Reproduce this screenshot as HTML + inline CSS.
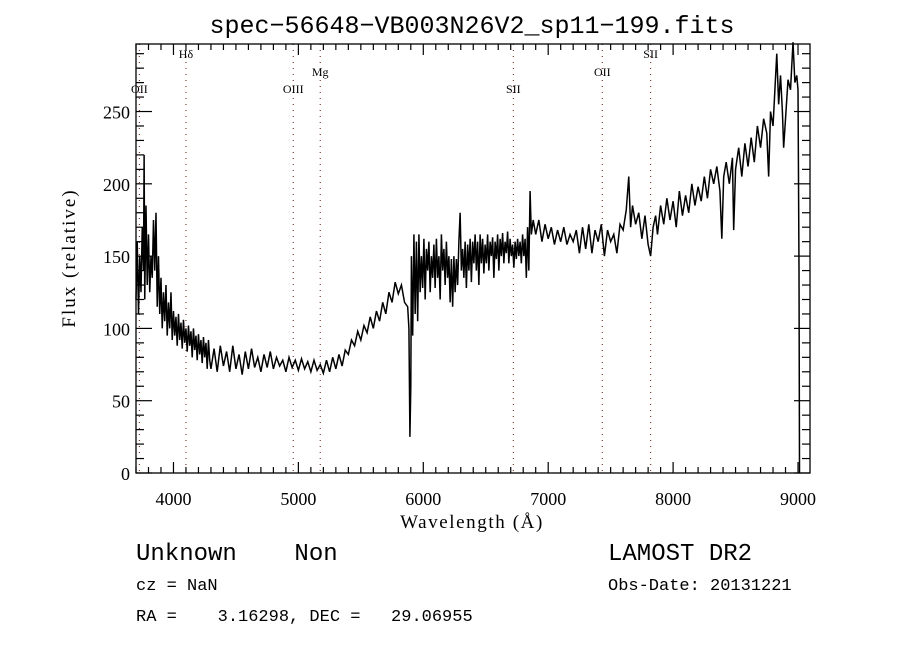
<!DOCTYPE html>
<html><head><meta charset="utf-8"><style>
html,body{margin:0;padding:0;background:#fff;}
svg{display:block;}
text{font-family:"Liberation Serif",serif;fill:#000;white-space:pre;}
</style></head><body>
<svg id="chart" width="900" height="650" viewBox="0 0 900 650" xmlns="http://www.w3.org/2000/svg">
<rect x="0" y="0" width="900" height="650" fill="#fff"/>
<text x="472" y="33" font-size="25" text-anchor="middle" font-family="Liberation Mono, monospace" style="font-family:'Liberation Mono',monospace">spec−56648−VB003N26V2_sp11−199.fits</text>
<text transform="translate(75,258) rotate(-90)" font-size="19" letter-spacing="2" text-anchor="middle">Flux (relative)</text>
<text x="472" y="528" font-size="19" letter-spacing="1.6" text-anchor="middle">Wavelength (Å)</text>
<g id="lines"></g>
<g id="axes"></g>
<path id="spec" fill="none" stroke="#000" stroke-width="1.5" stroke-linejoin="miter"/>
<text x="136" y="560" font-size="24" xml:space="preserve" style="font-family:'Liberation Mono',monospace">Unknown    Non</text>
<text x="608" y="560" font-size="24" style="font-family:'Liberation Mono',monospace">LAMOST DR2</text>
<text x="136" y="590" font-size="17" style="font-family:'Liberation Mono',monospace">cz = NaN</text>
<text x="608" y="590" font-size="17" style="font-family:'Liberation Mono',monospace">Obs-Date: 20131221</text>
<text x="136" y="621" font-size="17" xml:space="preserve" style="font-family:'Liberation Mono',monospace">RA =    3.16298, DEC =   29.06955</text>
</svg>
<script>
const waves = [3700,3710,3720,3730,3740,3750,3760,3765,3770,3780,3790,3800,3810,3820,3830,3840,3850,3860,3870,3880,3890,3900,3910,3920,3930,3940,3950,3960,3970,3980,3990,4000,4010,4020,4030,4040,4050,4060,4070,4080,4090,4100,4110,4120,4130,4140,4150,4160,4170,4180,4190,4200,4210,4220,4230,4240,4250,4260,4270,4280,4290,
4300,4325,4350,4375,4400,4425,4450,4475,4500,4525,4550,4575,4600,4625,4650,4675,4700,4725,4750,4775,4800,4825,4850,4875,4900,4925,4950,4975,5000,5025,5050,5075,5100,5125,5150,5175,5200,5225,5250,5275,5300,5325,5350,5375,5400,5425,5450,5475,5500,5525,5550,5575,5600,5625,5650,5675,5700,5725,5750,5775,5800,5825,5850,5875,5885,
5893,5900,5905,5915,5925,5935,5945,5955,5965,5975,5985,5995,6005,6015,6025,6035,6045,6055,6065,6075,6085,6095,6105,6115,6125,6135,6145,6155,6165,6175,6185,6195,6205,6215,6225,6235,6245,6255,6265,6275,6285,6295,6305,6315,6325,6335,6345,6355,6365,6375,6385,6395,6405,6415,6425,6435,6445,6455,6465,6475,6485,6495,6505,6515,6525,6535,6545,6555,6565,6575,6585,6595,6605,6615,6625,6635,6645,6655,6665,6675,6685,6695,6705,6715,6725,6735,6745,6755,6765,6775,6785,6795,6805,6815,6825,6835,6845,6855,6865,6880,
6900,6925,6950,6975,7000,7025,7050,7075,7100,7125,7150,7175,7200,7225,7250,7275,7300,7325,7350,7375,7400,7425,7450,7475,7500,7525,7550,7575,7600,7625,7645,7660,7675,7700,7725,7750,7775,7800,7820,7840,7860,7875,7900,7925,7950,7975,8000,8025,8050,8075,8100,8125,8150,8175,8200,8225,8250,8275,8300,8325,8350,8375,8390,8405,8425,8450,8475,8485,8500,8525,8550,8575,8600,8625,8650,8675,8700,8725,8750,8765,8780,8800,8815,8830,8845,8860,8875,8885,8900,8920,8940,8960,8975,8990,9000,9008,9012];
const flux = [120,160,110,150,125,170,140,220,120,185,130,165,125,150,135,175,140,180,115,150,110,135,100,125,105,130,95,118,100,125,92,112,95,108,88,110,92,104,86,106,90,100,84,102,88,98,80,100,85,95,78,96,82,92,76,94,80,90,72,92,78,
72,86,70,88,74,84,70,88,72,82,68,84,72,86,73,80,70,82,73,84,72,80,74,78,70,80,73,78,71,79,72,77,70,78,71,75,69,78,70,80,72,82,74,85,82,92,88,98,92,102,97,108,100,112,105,118,110,125,118,132,124,130,118,115,100,
25,60,150,95,165,110,160,105,165,125,150,128,162,120,155,140,160,125,150,135,158,128,162,135,150,120,165,140,155,130,160,135,150,118,148,115,150,125,148,130,160,180,140,155,135,160,128,158,140,162,132,160,145,165,140,160,130,165,145,162,138,158,145,165,140,160,150,163,135,160,148,165,140,162,150,166,145,160,152,167,145,162,150,158,142,160,148,162,150,160,145,165,150,162,135,170,140,195,165,175,
165,175,160,172,162,170,158,168,160,170,158,165,160,168,152,170,155,172,152,168,160,172,150,168,160,165,152,172,168,182,205,170,185,172,180,162,178,158,150,170,178,165,185,172,190,175,188,170,195,178,192,180,200,185,198,188,205,190,210,200,212,195,162,205,215,200,218,168,210,225,205,228,212,232,215,240,225,245,235,205,250,240,265,290,255,275,250,225,245,272,265,298,270,275,265,140,0];
const xTicks = [4000,5000,6000,7000,8000,9000];
const yTicks = [0,50,100,150,200,250];
const lineWaves = [3727,4100,4959,5175,6721,7433,7820];
const lineNames = ["OII","Hδ","OIII","Mg","SII","OII","SII"];
const lineLabelY = [93,58,93,76,93,76,58];

const L=136,R=810,T=44,B=473;
const X0=3700,X1=9096,Y0=0,Y1=296.7;
const sx = w => L + (w - X0) / (X1 - X0) * (R - L);
const sy = f => B - (f - Y0) / (Y1 - Y0) * (B - T);
const NS="http://www.w3.org/2000/svg";
function mk(tag, attrs, parent){const e=document.createElementNS(NS,tag);for(const k in attrs)e.setAttribute(k,attrs[k]);parent.appendChild(e);return e;}

const lg=document.getElementById('lines');
lineWaves.forEach((w,i)=>{
  const x=sx(w);
  const ln=mk('line',{x1:x,y1:T,x2:x,y2:B,stroke:'#7a2a1a','stroke-width':1.1,'stroke-dasharray':'1,5'},lg);
  
  
  const t=mk('text',{x:x,y:lineLabelY[i],'font-size':12,'text-anchor':'middle'},lg);
  t.textContent=lineNames[i];
  
  
});

const ax=document.getElementById('axes');
const frame=mk('rect',{x:L,y:T,width:R-L,height:B-T,fill:'none',stroke:'#000','stroke-width':1.3},ax);


for(let w=3700; w<=9096; w+=100){
  const major = xTicks.indexOf(w)>=0;
  const len = major?11:6, x=sx(w);
  mk('line',{x1:x,y1:B,x2:x,y2:B-len,stroke:'#000','stroke-width':1.2},ax);
  mk('line',{x1:x,y1:T,x2:x,y2:T+len,stroke:'#000','stroke-width':1.2},ax);
}
xTicks.forEach(w=>{
  const t=mk('text',{x:sx(w),y:B+32,'font-size':18,'text-anchor':'middle','font-family':'Liberation Sans, sans-serif'},ax);
  t.textContent=w;
  
  
});
for(let f=0; f<=Y1; f+=10){
  const major = yTicks.indexOf(f)>=0;
  const len = major?16:8, y=sy(f);
  mk('line',{x1:L,y1:y,x2:L+len,y2:y,stroke:'#000','stroke-width':1.2},ax);
  mk('line',{x1:R,y1:y,x2:R-len,y2:y,stroke:'#000','stroke-width':1.2},ax);
}
yTicks.forEach(f=>{
  const t=mk('text',{x:L-6,y:sy(f)+7,'font-size':18,'text-anchor':'end','font-family':'Liberation Sans, sans-serif'},ax);
  t.textContent=f;
  
  
});

let d='';
waves.forEach((w,i)=>{ d += (i?'L':'M') + sx(w).toFixed(2) + ',' + sy(flux[i]).toFixed(2); });
document.getElementById('spec').setAttribute('d', d);
</script>
</body></html>
